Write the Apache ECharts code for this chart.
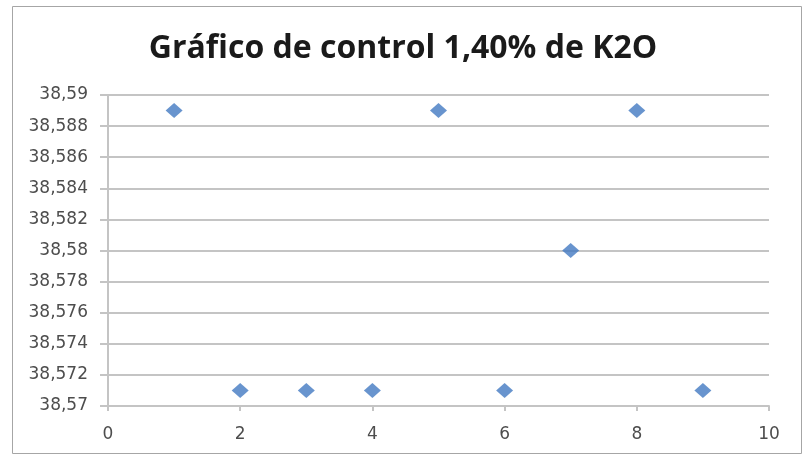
<!DOCTYPE html>
<html>
<head>
<meta charset="utf-8">
<script src="https://cdn.jsdelivr.net/npm/echarts@6/dist/echarts.min.js"></script>
<style>
  html, body { margin: 0; padding: 0; background: #ffffff; }
  #chart { width: 806px; height: 456px; }
</style>
</head>
<body>
<div id="chart"></div>
<script>
// Sample number and measured value for each control point
const sampleX = [1, 2, 3, 4, 5, 6, 7, 8, 9];
const valuesY = [38.589, 38.571, 38.571, 38.571, 38.589, 38.571, 38.58, 38.589, 38.571];
const titleText = 'Gráfico de control 1,40% de K2O';

const points = sampleX.map((x, i) => [x, valuesY[i]]);

const chart = echarts.init(document.getElementById('chart'));
const gridColor = '#c4c4c4';
const labelColor = '#4d4d4d';

chart.setOption({
  backgroundColor: '#ffffff',
  animation: false,
  title: {
    text: titleText,
    left: 'center',
    top: 28,
    textStyle: {
      fontFamily: 'Open Sans',
      fontWeight: 'bold',
      fontSize: 32,
      color: '#1a1a1a'
    }
  },
  graphic: [{
    type: 'rect',
    shape: { x: 12.5, y: 6.5, width: 789, height: 447 },
    style: { fill: 'none', stroke: '#a6a6a6', lineWidth: 1 },
    silent: true,
    z: -1
  }],
  grid: { left: 108, right: 37, top: 95, bottom: 50 },
  xAxis: {
    type: 'value',
    min: 0,
    max: 10,
    interval: 2,
    axisLine: { show: true, lineStyle: { color: gridColor, width: 2 } },
    axisTick: { show: true, length: 5, lineStyle: { color: gridColor, width: 2 } },
    splitLine: { show: false },
    axisLabel: {
      color: labelColor,
      fontFamily: 'DejaVu Sans',
      fontSize: 17,
      margin: 20
    }
  },
  yAxis: {
    type: 'value',
    min: 38.57,
    max: 38.59,
    interval: 0.002,
    axisLine: { show: true, onZero: false, lineStyle: { color: gridColor, width: 2 } },
    axisTick: { show: true, length: 8, lineStyle: { color: gridColor, width: 2 } },
    splitLine: { show: true, lineStyle: { color: gridColor, width: 2 } },
    axisLabel: {
      color: labelColor,
      fontFamily: 'DejaVu Sans',
      fontSize: 17,
      margin: 20,
      formatter: v => String(parseFloat(v.toFixed(3))).replace('.', ',')
    }
  },
  series: [{
    type: 'scatter',
    data: points,
    symbol: 'diamond',
    symbolSize: [17, 15],
    itemStyle: { color: '#4279c2' }
  }]
});
</script>
</body>
</html>
